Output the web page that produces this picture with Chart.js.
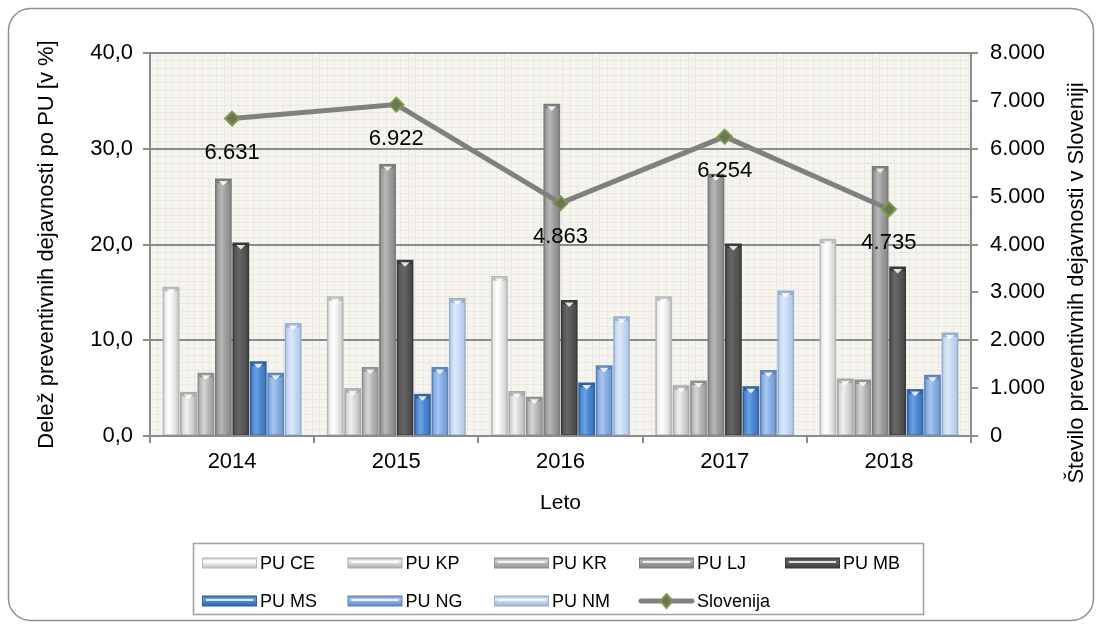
<!DOCTYPE html>
<html><head><meta charset="utf-8">
<script src="https://cdn.jsdelivr.net/npm/chart.js@4.4.1/dist/chart.umd.min.js"></script>
<style>html,body{margin:0;padding:0;background:#fff}#wrap{width:1102px;height:629px}</style>
</head><body><div id="wrap"><canvas id="c" width="1102" height="629"></canvas></div>
<script>
const categories = ['2014', '2015', '2016', '2017', '2018'];
const seriesNames = ['PU CE', 'PU KP', 'PU KR', 'PU LJ', 'PU MB', 'PU MS', 'PU NG', 'PU NM'];
const puCE = [15.6, 14.6, 16.7, 14.6, 20.6];
const puKP = [4.6, 5.0, 4.7, 5.3, 6.0];
const puKR = [6.6, 7.2, 4.1, 5.8, 5.9];
const puLJ = [26.9, 28.4, 34.7, 27.4, 28.2];
const puMB = [20.2, 18.4, 14.2, 20.1, 17.7];
const puMS = [7.8, 4.4, 5.6, 5.2, 4.9];
const puNG = [6.6, 7.2, 7.4, 6.9, 6.4];
const puNM = [11.8, 14.4, 12.5, 15.2, 10.8];
const lineName = 'Slovenija';
const slovenija = [6631, 6922, 4863, 6254, 4735];
const leftTitle = 'Delež preventivnih dejavnosti po PU [v %]';
const rightTitle = 'Število preventivnih dejavnosti v Sloveniji';
const xTitle = 'Leto';

const FONT = "'Liberation Sans', Arial, sans-serif";
const barStyles = [
  {edge:'#b8b8b8', base:'#ececec', hi:'#ffffff', dark:'#c4c4c4'},
  {edge:'#a8a8a8', base:'#d6d6d6', hi:'#f0f0f0', dark:'#b4b4b4'},
  {edge:'#8e8e8e', base:'#b6b6b6', hi:'#d6d6d6', dark:'#9a9a9a'},
  {edge:'#7a7a7a', base:'#9c9c9c', hi:'#b8b8b8', dark:'#858585'},
  {edge:'#383838', base:'#575757', hi:'#666666', dark:'#444444'},
  {edge:'#2f5f9e', base:'#4a86d0', hi:'#6aa2e4', dark:'#3b70b6'},
  {edge:'#5a82b8', base:'#86aee2', hi:'#a8c6f0', dark:'#7096cc'},
  {edge:'#98aece', base:'#c4d8f2', hi:'#dce8fa', dark:'#aec4e2'}
];
const seriesData = [puCE, puKP, puKR, puLJ, puMB, puMS, puNG, puNM];

function fmtThousands(v){
  return String(Math.round(v)).replace(/\B(?=(\d{3})+(?!\d))/g, '.');
}

const decor = {
  id: 'decor',
  beforeDraw(chart){
    const {ctx, chartArea:a} = chart;
    ctx.save();
    ctx.fillStyle = '#ffffff';
    ctx.fillRect(0, 0, chart.width, chart.height);
    ctx.fillStyle = '#f6f4ef';
    ctx.fillRect(a.left, a.top, a.width, a.height);
    ctx.strokeStyle = '#eae8e0';
    ctx.lineWidth = 1;
    ctx.beginPath();
    const step = a.height / 52;
    for (let x = a.left + step; x < a.right; x += step){
      const px = Math.round(x) + 0.5;
      ctx.moveTo(px, a.top); ctx.lineTo(px, a.bottom);
    }
    for (let y = a.bottom - step; y > a.top; y -= step){
      const py = Math.round(y) + 0.5;
      ctx.moveTo(a.left, py); ctx.lineTo(a.right, py);
    }
    ctx.stroke();
    ctx.restore();
  },
  afterDatasetDraw(chart, args){
    const meta = args.meta;
    if (meta.type !== 'bar') return;
    const st = barStyles[args.index];
    const ctx = chart.ctx;
    ctx.save();
    meta.data.forEach(el => {
      const {x, y, base, width} = el.getProps(['x','y','base','width'], true);
      const l = x - width/2, r = x + width/2;
      const t = Math.min(y, base), b = Math.max(y, base);
      const g = ctx.createLinearGradient(l, 0, r, 0);
      g.addColorStop(0, st.dark);
      g.addColorStop(0.15, st.base);
      g.addColorStop(0.38, st.hi);
      g.addColorStop(0.65, st.base);
      g.addColorStop(1, st.dark);
      ctx.fillStyle = g;
      ctx.fillRect(l + 1.5, t + 1.5, width - 3, b - t - 2);
      ctx.fillStyle = st.edge;
      ctx.fillRect(l + 1.5, t + 1.5, width - 3, 3);
      ctx.fillStyle = 'rgba(255,255,255,0.85)';
      ctx.beginPath();
      ctx.moveTo(x - width*0.28, t + 2.5);
      ctx.lineTo(x + width*0.28, t + 2.5);
      ctx.lineTo(x, t + 7);
      ctx.closePath();
      ctx.fill();
    });
    ctx.restore();
  },
  afterDatasetsDraw(chart){
    const ctx = chart.ctx;
    const idx = chart.data.datasets.findIndex(d => d.type === 'line');
    const meta = chart.getDatasetMeta(idx);
    ctx.save();
    ctx.font = '22px ' + FONT;
    ctx.fillStyle = '#000';
    ctx.textAlign = 'center';
    ctx.textBaseline = 'middle';
    meta.data.forEach((pt, i) => {
      ctx.fillText(fmtThousands(slovenija[i]), pt.x, pt.y + 34);
    });
    ctx.restore();
  },
  afterDraw(chart){
    const ctx = chart.ctx;
    ctx.save();
    ctx.strokeStyle = '#8f8f8f';
    ctx.lineWidth = 1.5;
    ctx.beginPath();
    ctx.roundRect(8.5, 8.5, 1085, 612, 22);
    ctx.stroke();
    ctx.save();
    ctx.translate(1077, 283);
    ctx.rotate(-Math.PI/2);
    ctx.font = '22px ' + FONT;
    ctx.fillStyle = '#000';
    ctx.textAlign = 'center';
    ctx.textBaseline = 'middle';
    ctx.fillText(rightTitle, 0, 0);
    ctx.restore();
    ctx.strokeStyle = '#a0a0a0';
    ctx.lineWidth = 1.5;
    ctx.strokeRect(193.5, 543.5, 730, 71);
    const cols = [202, 347.5, 494, 639, 785];
    const rows = [563, 601];
    const items = seriesNames.map((n, i) => ({name:n, kind:'bar', st:barStyles[i]}));
    items.push({name: lineName, kind:'line'});
    ctx.font = '18px ' + FONT;
    ctx.textBaseline = 'middle';
    ctx.textAlign = 'left';
    items.forEach((it, i) => {
      const cx = cols[i % 5], cy = rows[Math.floor(i / 5)];
      const w = 55, h = 11;
      if (it.kind === 'bar'){
        const g = ctx.createLinearGradient(0, cy - h/2, 0, cy + h/2);
        g.addColorStop(0, it.st.edge);
        g.addColorStop(0.3, it.st.hi);
        g.addColorStop(0.55, it.st.base);
        g.addColorStop(1, it.st.edge);
        ctx.fillStyle = it.st.edge;
        ctx.fillRect(cx, cy - h/2, w, h);
        ctx.fillStyle = g;
        ctx.fillRect(cx + 1, cy - h/2 + 1, w - 2, h - 2);
        ctx.fillStyle = 'rgba(255,255,255,0.8)';
        ctx.fillRect(cx + 4, cy - 2, w - 8, 2);
      } else {
        ctx.strokeStyle = '#808080';
        ctx.lineWidth = 5;
        ctx.lineCap = 'round';
        ctx.beginPath();
        ctx.moveTo(cx + 2, cy); ctx.lineTo(cx + w - 2, cy);
        ctx.stroke();
        ctx.lineCap = 'butt';
        const mx = cx + w/2;
        ctx.fillStyle = '#6d7558';
        ctx.strokeStyle = '#7d9b48';
        ctx.lineWidth = 2;
        ctx.beginPath();
        ctx.moveTo(mx, cy - 7); ctx.lineTo(mx + 6, cy); ctx.lineTo(mx, cy + 7); ctx.lineTo(mx - 6, cy);
        ctx.closePath();
        ctx.fill(); ctx.stroke();
      }
      ctx.fillStyle = '#000';
      ctx.fillText(it.name, cx + w + 3, cy + 1);
    });
    ctx.restore();
  }
};

const datasets = seriesData.map((d, i) => ({
  type: 'bar',
  label: seriesNames[i],
  data: d,
  yAxisID: 'y',
  backgroundColor: barStyles[i].edge,
  borderWidth: 0,
  categoryPercentage: 0.85,
  barPercentage: 0.96,
  order: 2
}));
datasets.push({
  type: 'line',
  label: lineName,
  data: slovenija,
  yAxisID: 'y1',
  borderColor: '#808080',
  borderWidth: 5,
  pointStyle: 'rectRot',
  pointRadius: 7,
  pointBackgroundColor: '#6d7558',
  pointBorderColor: '#7d9b48',
  pointBorderWidth: 2,
  tension: 0,
  order: 1
});

Chart.defaults.font.family = FONT;
Chart.defaults.color = '#000';

new Chart(document.getElementById('c'), {
  type: 'bar',
  data: { labels: categories, datasets },
  options: {
    responsive: false,
    devicePixelRatio: 1,
    animation: false,
    layout: { padding: { left: 30, right: 0, top: 53, bottom: 113 } },
    plugins: { legend: { display: false }, tooltip: { enabled: false } },
    scales: {
      x: {
        grid: { display: true, drawOnChartArea: false, drawTicks: true, tickLength: 7, color: '#8c8c8c', lineWidth: 2, offset: true },
        border: { display: true, color: '#8c8c8c', width: 2 },
        ticks: { font: { size: 22 }, color: '#000', padding: 6 },
        title: { display: true, text: xTitle, font: { size: 21 }, color: '#000', padding: { top: 0, bottom: 0 } },
        afterFit(s){ s.height = 80; }
      },
      y: {
        position: 'left',
        min: 0, max: 40,
        ticks: { stepSize: 10, callback: v => v.toFixed(1).replace('.', ','), font: { size: 22 }, color: '#000', padding: 10 },
        grid: { color: '#8c8c8c', lineWidth: 2, tickLength: 7 },
        border: { color: '#8c8c8c', width: 2 },
        title: { display: true, text: leftTitle, font: { size: 22 }, color: '#000', padding: { top: 4, bottom: 0 } },
        afterFit(s){ s.width = 120; }
      },
      y1: {
        position: 'right',
        min: 0, max: 8000,
        ticks: { stepSize: 1000, callback: v => fmtThousands(v), font: { size: 22 }, color: '#000', padding: 12 },
        grid: { drawOnChartArea: false, color: '#8c8c8c', lineWidth: 2, tickLength: 7 },
        border: { color: '#8c8c8c', width: 2 },
        afterFit(s){ s.width = 131; }
      }
    }
  },
  plugins: [decor]
});
</script>
</body></html>
